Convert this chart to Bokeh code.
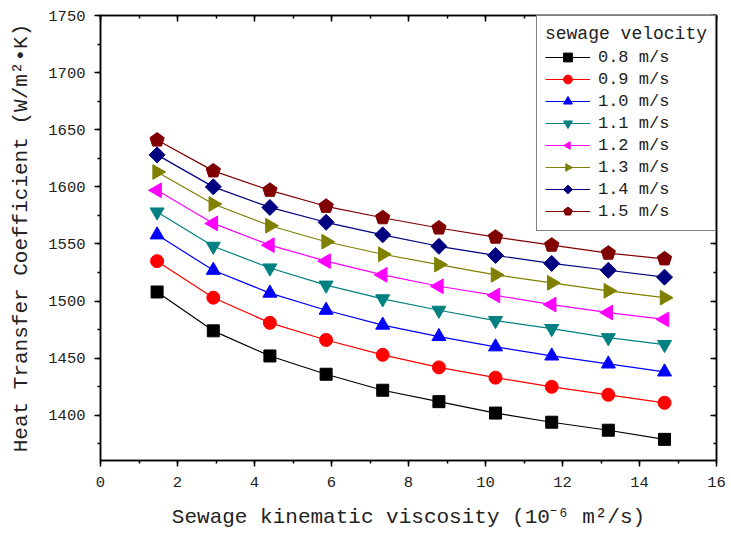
import math
from bokeh.plotting import figure
from bokeh.models import LinearAxis, SingleIntervalTicker, Range1d, CustomJSTickFormatter
from bokeh.embed import file_html
from bokeh.resources import INLINE

viscosity = [1.47, 2.93, 4.40, 5.86, 7.33, 8.79, 10.26, 11.72, 13.19, 14.65]

v08 = [1508, 1474, 1452, 1436, 1422, 1412, 1402, 1394, 1387, 1379]
v09 = [1535, 1503, 1481, 1466, 1453, 1442, 1433, 1425, 1418, 1411]
v10 = [1558, 1527, 1507, 1492, 1479, 1469, 1460, 1452, 1445, 1438]
v11 = [1578, 1548, 1529, 1514, 1502, 1492, 1483, 1476, 1468, 1462]
v12 = [1597, 1568, 1549, 1535, 1523, 1513, 1505, 1497, 1490, 1484]
v13 = [1613, 1585, 1566, 1552, 1541, 1532, 1523, 1516, 1509, 1503]
v14 = [1628, 1600, 1582, 1569, 1558, 1548, 1540, 1533, 1527, 1521]
v15 = [1641, 1614, 1597, 1583, 1573, 1564, 1556, 1549, 1542, 1537]

labels = ["0.8 m/s", "0.9 m/s", "1.0 m/s", "1.1 m/s", "1.2 m/s", "1.3 m/s", "1.4 m/s", "1.5 m/s"]
series = [v08, v09, v10, v11, v12, v13, v14, v15]
colors = ["#000000", "#FF0000", "#0000FF", "#008080", "#FF00FF", "#808000", "#000080", "#800000"]
# (kind, marker / polygon sides, size or radius, angle)
styles = [
    ("scatter", "square", 12, 0),
    ("scatter", "circle", 13, 0),
    ("scatter", "triangle", 14, 0),
    ("scatter", "inverted_triangle", 14, 0),
    ("ngon", 3, 8.5, math.pi / 2),
    ("ngon", 3, 8.5, -math.pi / 2),
    ("ngon", 4, 8, 0),
    ("ngon", 5, 7.5, 0),
]

FONT = "Liberation Mono"

p = figure(width=731, height=533, output_backend="svg", toolbar_location=None,
           x_range=Range1d(0, 16), y_range=Range1d(1360.5, 1750),
           min_border_left=100, min_border_right=15, min_border_top=15, min_border_bottom=73)
p.xgrid.visible = False
p.ygrid.visible = False
p.outline_line_color = "black"
p.outline_line_width = 1.5

p.xaxis[0].ticker = SingleIntervalTicker(interval=2, num_minor_ticks=2)
p.yaxis[0].ticker = SingleIntervalTicker(interval=50, num_minor_ticks=2)

p.xaxis.axis_label = "Sewage kinematic viscosity (10\u207b\u2076 m\u00b2/s)"
p.yaxis.axis_label = "Heat Transfer Coefficient (W/m\u00b2\u2022K)"

for ax in [p.xaxis[0], p.yaxis[0]]:
    ax.axis_line_color = "black"
    ax.axis_line_width = 1.5
    ax.major_tick_line_color = "black"
    ax.minor_tick_line_color = "black"
    ax.major_tick_line_width = 1.5
    ax.minor_tick_line_width = 1.5
    ax.major_tick_in = 0
    ax.major_tick_out = 6
    ax.minor_tick_in = 0
    ax.minor_tick_out = 3
    ax.major_label_text_font = FONT
    ax.major_label_text_font_size = "15.5px"
    ax.major_label_text_color = "#222222"
    ax.axis_label_text_font = FONT
    ax.axis_label_text_font_size = "21px"
    ax.axis_label_text_font_style = "normal"
    ax.axis_label_text_color = "#222222"

p.xaxis[0].major_label_standoff = 10
p.xaxis[0].axis_label_standoff = 16
p.yaxis[0].major_label_standoff = 9
p.yaxis[0].axis_label_standoff = 12

top_ax = LinearAxis(ticker=SingleIntervalTicker(interval=2, num_minor_ticks=2))
right_ax = LinearAxis(ticker=SingleIntervalTicker(interval=50, num_minor_ticks=2))
for ax in [top_ax, right_ax]:
    ax.axis_line_color = "black"
    ax.axis_line_width = 1.5
    ax.major_tick_line_color = "black"
    ax.minor_tick_line_color = "black"
    ax.major_tick_line_width = 1.5
    ax.minor_tick_line_width = 1.5
    ax.major_tick_in = 6
    ax.major_tick_out = 0
    ax.minor_tick_in = 3
    ax.minor_tick_out = 0
    ax.formatter = CustomJSTickFormatter(code="return ''")
    ax.major_label_standoff = 0
p.add_layout(top_ax, "above")
p.add_layout(right_ax, "right")

for lab, ys, col, (kind, mk, sz, ang) in zip(labels, series, colors, styles):
    p.line(viscosity, ys, line_color=col, line_width=1.2, legend_label=lab)
    if kind == "ngon":
        p.ngon(x=viscosity, y=ys, radius=sz, radius_units="screen", n=mk,
               angle=ang, fill_color=col, line_color=col, legend_label=lab)
    else:
        p.scatter(viscosity, ys, marker=mk, size=sz,
                  fill_color=col, line_color=col, legend_label=lab)

lg = p.legend[0]
lg.title = "sewage velocity"
lg.title_text_font = FONT
lg.title_text_font_size = "18px"
lg.title_text_font_style = "normal"
lg.title_text_color = "#222222"
lg.title_standoff = 2
lg.label_text_font = FONT
lg.label_text_font_size = "17px"
lg.label_text_color = "#222222"
lg.location = "top_right"
lg.margin = 0
lg.padding = 8
lg.spacing = 0
lg.glyph_width = 45
lg.glyph_height = 22
lg.label_height = 22
lg.label_standoff = 8
lg.border_line_color = "black"
lg.border_line_width = 1.2
lg.background_fill_alpha = 1.0

open("out.html", "w").write(file_html(p, INLINE))
